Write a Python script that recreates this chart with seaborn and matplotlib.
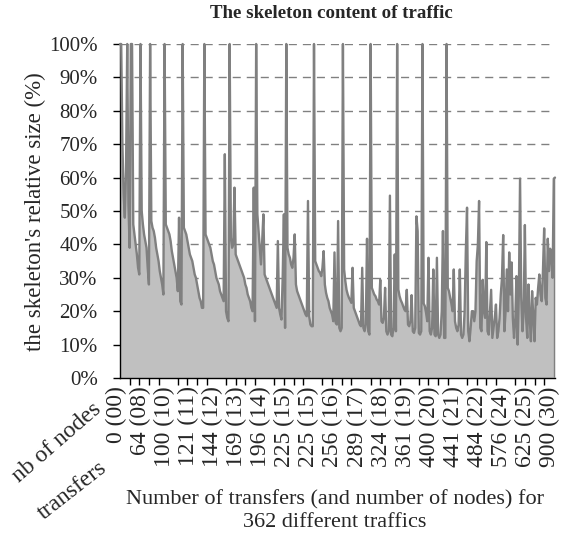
import numpy as np
import pandas as pd
import seaborn as sns
import matplotlib.pyplot as plt
import matplotlib.transforms as mtransforms
from matplotlib.ticker import PercentFormatter

# category labels, one every 20 traffics
transfers = [0, 64, 100, 121, 144, 169, 196, 225, 225, 256, 289, 324, 361, 400, 441, 484, 576, 625, 900]
nodes = [0, 8, 10, 11, 12, 13, 14, 15, 15, 16, 17, 18, 19, 20, 21, 22, 24, 25, 30]
label_step = 20

# relative size of the skeleton (%) for the 362 traffics
skeleton_pct = [
    100, 100, 70, 55, 48, 62, 100, 52, 39, 100, 100, 46, 43, 40, 37, 33, 31, 100, 50, 46,
    43, 41, 39, 33, 28, 100, 47, 45, 44, 42, 39, 37, 35, 32, 30, 28, 25, 100, 46, 45,
    44, 43, 41, 38, 36, 34, 32, 30, 26, 48, 23, 22, 100, 45, 44, 43, 41, 39, 37, 36,
    35, 33, 31, 30, 28, 26, 24, 23, 21, 21, 100, 43, 42, 41, 40, 39, 37, 35, 34, 32,
    30, 29, 28, 26, 25, 24, 23, 67, 20, 18, 17, 100, 42, 39, 40, 57, 37, 36, 35, 34,
    33, 32, 31, 30, 28, 27, 25, 24, 23, 21, 20, 57, 17, 100, 49, 44, 39, 34, 41, 49,
    31, 30, 29, 28, 27, 26, 25, 24, 23, 22, 21, 41, 21, 19, 17.5, 30, 49, 15, 100, 39,
    37, 36, 34, 33, 36, 43, 28, 26, 25, 24, 23, 22, 21, 20, 19, 18.5, 53, 18.5, 16, 15.5,
    15.5, 100, 35, 34, 33, 32, 31.5, 30.5, 33, 38, 28, 25.5, 24, 23, 21, 20, 19, 17, 37.6, 16.5,
    16, 47, 15, 14, 15, 100, 32.5, 29, 26.4, 25, 24, 23.3, 22.5, 33, 21, 20, 19, 18, 17, 16,
    15.5, 33, 15, 14, 16, 41.7, 14, 13, 100, 27, 26, 25, 24.5, 23.5, 23, 22, 29.4, 17, 16.5, 18,
    27, 14, 13, 14, 54.6, 13, 12.5, 15, 37, 14, 100, 26.5, 24.5, 23.3, 22.5, 21.5, 20.5, 20, 26.4, 16,
    15.5, 17, 24.8, 14, 13.5, 15, 48.4, 44, 13.5, 13, 14, 100, 22.3, 21.5, 19.5, 17, 36, 14, 13, 15,
    32.5, 13, 12.5, 36, 13, 12, 13, 20, 44, 12, 12, 100, 27, 26, 24, 22.3, 20, 32.5, 17, 15,
    14, 16, 32.5, 13, 12, 13, 20, 38, 51, 14, 11, 15, 20, 20, 17, 20, 35, 40, 53, 15,
    14, 29.4, 20, 18, 40.7, 14, 13, 20, 26.4, 12, 15, 18, 22, 12, 14, 18, 25, 30, 42.8, 14,
    20, 32.5, 20, 37.6, 25, 34.6, 18, 12, 17, 30.5, 10, 25, 59.7, 24, 14, 20, 45.8, 18, 12, 28,
    18, 11, 26, 18, 11, 24, 22, 27, 31, 25, 23, 32, 44.8, 24, 22, 41.7, 32, 38.7, 36, 30,
    59.7, 60,
]

df = pd.DataFrame({'traffic': np.arange(len(skeleton_pct)), 'pct': skeleton_pct})
tick_labels = ['%d (%02d)' % (t, n) for t, n in zip(transfers, nodes)]

sns.set_style('ticks')
plt.rcParams['font.family'] = ['Liberation Serif', 'DejaVu Serif']

fig = plt.figure(figsize=(5.62, 5.37), dpi=100)
ax = fig.add_axes([120 / 562, 1 - 378 / 537, 435 / 562, 334 / 537])

line_col = '#808080'
ax.fill_between(df.traffic, df.pct, color='#c0c0c0', lw=0, zorder=2)
sns.lineplot(data=df, x='traffic', y='pct', color=line_col, lw=1.7, ax=ax, zorder=3, clip_on=False)
# closing edge of the area at the last traffic
last = df.iloc[-1]
ax.plot([last.traffic, last.traffic], [last.pct, 0], color=line_col, lw=1.7, zorder=3)

ax.set_xlim(0, len(skeleton_pct) - 1)
ax.set_ylim(0, 100)
ax.set_yticks(range(0, 101, 10))
ax.yaxis.set_major_formatter(PercentFormatter(decimals=0))
ax.yaxis.grid(True, linestyle=(0, (5.8, 4.3)), color=line_col, lw=1)
ax.set_axisbelow(True)

ax.set_xticks(range(0, len(skeleton_pct), label_step))
ax.set_xticklabels(tick_labels, rotation=90)
ax.set_xticks(np.arange(0, len(skeleton_pct), 8), minor=True)
ax.tick_params(axis='x', which='major', length=0, pad=6, labelsize=17)
ax.tick_params(axis='x', which='minor', length=5, width=1, direction='out', color='black')
ax.tick_params(axis='y', length=5, width=1, direction='out', pad=11, labelsize=15, color='black')
shift = mtransforms.ScaledTranslation(-4 / 100, 0, fig.dpi_scale_trans)
for lab in ax.get_xticklabels():
    lab.set_transform(lab.get_transform() + shift)

sns.despine(ax=ax)
for s in ['left', 'bottom']:
    ax.spines[s].set_color('black')
    ax.spines[s].set_linewidth(1)
ax.set_xlabel('')
ax.set_ylabel('')

fig.text(331 / 562, 1 - 13 / 537, 'The skeleton content of traffic', ha='center', va='center',
         fontsize=13.6, fontweight='bold')
fig.text(35 / 562, 1 - 212 / 537, "the skeleton's relative size (%)", rotation=90,
         ha='center', va='center', fontsize=16.5)
fig.text(335 / 562, 1 - 511 / 537, 'Number of transfers (and number of nodes) for\n362 different traffics',
         ha='center', va='center', fontsize=16, linespacing=1.3)
fig.text(57 / 562, 1 - 443 / 537, 'nb of nodes', rotation=41, ha='center', va='center', fontsize=17)
fig.text(72 / 562, 1 - 491 / 537, 'transfers', rotation=38, ha='center', va='center', fontsize=17)

fig.savefig('out.png', dpi=100)
